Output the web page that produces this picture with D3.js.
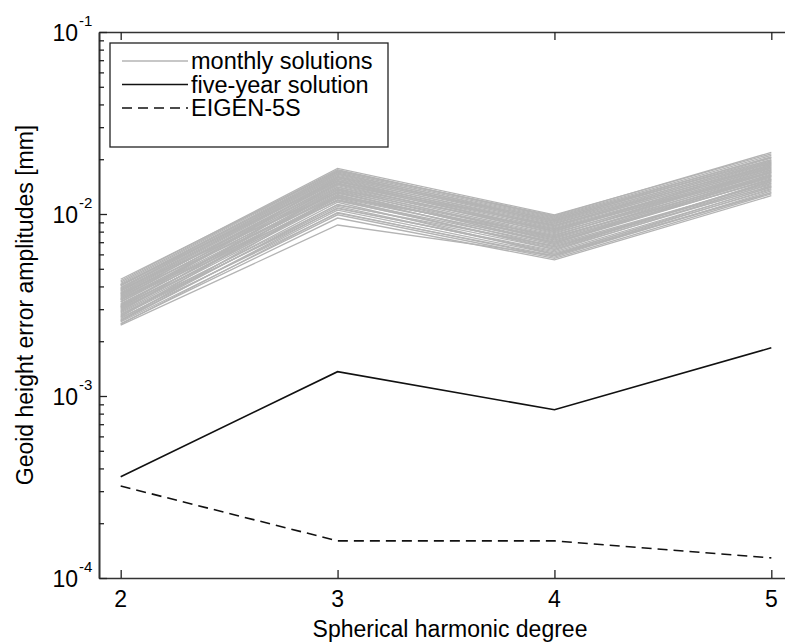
<!DOCTYPE html>
<html>
<head>
<meta charset="utf-8">
<script src="https://cdn.jsdelivr.net/npm/d3@7"></script>
<style>
  body { margin: 0; background: #fff; }
  text { font-family: "Liberation Sans", Arial, sans-serif; fill: #000; }
</style>
</head>
<body>
<svg id="chart" width="785" height="642"></svg>
<script>
// ─── DATA ─────────────────────────────────────────────────────────────────────
const degrees = [2, 3, 4, 5];
const xTicks = [2, 3, 4, 5];
const yMajor = [1e-4, 1e-3, 1e-2, 1e-1];
const yExp = [-4, -3, -2, -1];

// monthly solutions, geoid height error [mm] at degree 2,3,4,5
const monthly = [
  [0.00245, 0.0087, 0.0059, 0.0131],
  [0.00250, 0.0095, 0.0056, 0.0126],
  [0.00255, 0.0099, 0.0057, 0.0129],
  [0.00248, 0.0102, 0.0058, 0.0134],
  [0.00262, 0.0105, 0.0060, 0.0131],
  [0.00270, 0.0101, 0.0059, 0.0138],
  [0.00258, 0.0108, 0.0062, 0.0140],
  [0.00275, 0.0110, 0.0061, 0.0136],
  [0.00266, 0.0113, 0.0064, 0.0143],
  [0.00282, 0.0107, 0.0063, 0.0147],
  [0.00278, 0.0116, 0.0060, 0.0141],
  [0.00290, 0.0119, 0.0065, 0.0150],
  [0.00286, 0.0112, 0.0067, 0.0145],
  [0.00295, 0.0122, 0.0064, 0.0153],
  [0.00302, 0.0120, 0.0068, 0.0148],
  [0.00298, 0.0125, 0.0069, 0.0156],
  [0.00308, 0.0128, 0.0066, 0.0151],
  [0.00312, 0.0123, 0.0070, 0.0160],
  [0.00305, 0.0130, 0.0072, 0.0154],
  [0.00318, 0.0132, 0.0069, 0.0163],
  [0.00322, 0.0127, 0.0073, 0.0158],
  [0.00315, 0.0135, 0.0071, 0.0166],
  [0.00328, 0.0133, 0.0075, 0.0161],
  [0.00335, 0.0138, 0.0074, 0.0169],
  [0.00330, 0.0140, 0.0077, 0.0164],
  [0.00342, 0.0136, 0.0076, 0.0172],
  [0.00338, 0.0143, 0.0079, 0.0168],
  [0.00348, 0.0145, 0.0078, 0.0175],
  [0.00352, 0.0141, 0.0081, 0.0171],
  [0.00345, 0.0148, 0.0080, 0.0178],
  [0.00358, 0.0150, 0.0083, 0.0174],
  [0.00362, 0.0146, 0.0082, 0.0181],
  [0.00355, 0.0153, 0.0085, 0.0184],
  [0.00370, 0.0155, 0.0084, 0.0179],
  [0.00366, 0.0151, 0.0087, 0.0187],
  [0.00375, 0.0158, 0.0086, 0.0190],
  [0.00382, 0.0160, 0.0089, 0.0185],
  [0.00378, 0.0156, 0.0088, 0.0193],
  [0.00388, 0.0163, 0.0091, 0.0196],
  [0.00395, 0.0165, 0.0090, 0.0191],
  [0.00392, 0.0161, 0.0093, 0.0199],
  [0.00402, 0.0168, 0.0092, 0.0203],
  [0.00408, 0.0170, 0.0095, 0.0198],
  [0.00405, 0.0166, 0.0094, 0.0206],
  [0.00415, 0.0173, 0.0097, 0.0210],
  [0.00422, 0.0175, 0.0096, 0.0205],
  [0.00430, 0.0178, 0.0099, 0.0214],
  [0.00438, 0.0172, 0.0098, 0.0218],
  [0.00260, 0.0126, 0.0074, 0.0162],
  [0.00340, 0.0118, 0.0066, 0.0142],
  [0.00292, 0.0147, 0.0086, 0.0182],
  [0.00385, 0.0131, 0.0070, 0.0155],
  [0.00310, 0.0159, 0.0091, 0.0194],
  [0.00365, 0.0124, 0.0076, 0.0176],
  [0.00272, 0.0137, 0.0082, 0.0170],
  [0.00410, 0.0152, 0.0080, 0.0188],
];
const fiveYear = [0.00036, 0.00136, 0.00084, 0.00184];
const eigen5s  = [0.00032, 0.00016, 0.00016, 0.000129];

const legendItems = [
  { label: 'monthly solutions', color: '#b4b4b4', dash: null },
  { label: 'five-year solution', color: '#111', dash: null },
  { label: 'EIGEN-5S', color: '#111', dash: '10,6' },
];
// ──────────────────────────────────────────────────────────────────────────────

const box = { left: 99, right: 793, top: 32, bottom: 578 };

const svg = d3.select('#chart');
svg.append('rect').attr('width', 785).attr('height', 642).attr('fill', '#fff');

const x = d3.scaleLinear().domain([1.9, 5.1]).range([box.left, box.right]);
const y = d3.scaleLog().domain([1e-4, 1e-1]).range([box.bottom, box.top]);

const yMinor = [];
yMajor.slice(0, -1).forEach((m) => {
  for (let k = 2; k <= 9; k++) yMinor.push(m * k);
});

svg.append('defs').append('clipPath').attr('id', 'plot')
  .append('rect').attr('x', box.left).attr('y', box.top)
  .attr('width', box.right - box.left).attr('height', box.bottom - box.top);

const line = d3.line()
  .x((d, i) => x(degrees[i]))
  .y((d) => y(d));

const plot = svg.append('g').attr('clip-path', 'url(#plot)');

plot.selectAll('path.monthly')
  .data(monthly)
  .join('path')
  .attr('class', 'monthly')
  .attr('d', line)
  .attr('fill', 'none')
  .attr('stroke', '#b4b4b4')
  .attr('stroke-width', 1.3);

plot.append('path')
  .attr('d', line(fiveYear))
  .attr('fill', 'none')
  .attr('stroke', '#111')
  .attr('stroke-width', 1.6);

plot.append('path')
  .attr('d', line(eigen5s))
  .attr('fill', 'none')
  .attr('stroke', '#111')
  .attr('stroke-width', 1.6)
  .attr('stroke-dasharray', '10,6');

// ─── AXES (MATLAB style: inward ticks, box) ─────────────────────────────────
function styleAxis(g) {
  g.selectAll('path.domain').attr('stroke', '#333').attr('stroke-width', 1.6);
  g.selectAll('.tick line').attr('stroke', '#222').attr('stroke-width', 1.3);
  g.selectAll('.tick text').remove();
}

svg.append('g').attr('transform', `translate(0,${box.bottom})`)
  .call(d3.axisBottom(x).tickValues(xTicks).tickSize(-8).tickSizeOuter(0))
  .call(styleAxis);
svg.append('g').attr('transform', `translate(0,${box.top})`)
  .call(d3.axisTop(x).tickValues(xTicks).tickSize(-8).tickSizeOuter(0))
  .call(styleAxis);
svg.append('g').attr('transform', `translate(${box.left},0)`)
  .call(d3.axisLeft(y).tickValues(yMajor).tickSize(-8).tickSizeOuter(0))
  .call(styleAxis);
svg.append('g').attr('transform', `translate(${box.left},0)`)
  .call(d3.axisLeft(y).tickValues(yMinor).tickSize(-5).tickSizeOuter(0))
  .call(styleAxis);
svg.append('g').attr('transform', `translate(${box.right},0)`)
  .call(d3.axisRight(y).tickValues(yMajor).tickSize(-8).tickSizeOuter(0))
  .call(styleAxis);

// tick labels
svg.selectAll('text.xtick')
  .data(xTicks)
  .join('text')
  .attr('class', 'xtick')
  .attr('x', (d) => x(d))
  .attr('y', 607)
  .attr('text-anchor', 'middle')
  .attr('font-size', 23)
  .text((d) => d);

svg.selectAll('text.ytick')
  .data(yMajor)
  .join('text')
  .attr('class', 'ytick')
  .attr('x', 78)
  .attr('y', (d) => y(d) + 9)
  .attr('text-anchor', 'end')
  .attr('font-size', 23)
  .text('10');
svg.selectAll('text.yexp')
  .data(yMajor)
  .join('text')
  .attr('class', 'yexp')
  .attr('x', 79)
  .attr('y', (d) => y(d) - 6)
  .attr('font-size', 15)
  .text((d, i) => yExp[i]);

// axis titles
svg.append('text')
  .attr('x', 450)
  .attr('y', 637)
  .attr('text-anchor', 'middle')
  .attr('font-size', 23)
  .text('Spherical harmonic degree');

svg.append('text')
  .attr('transform', `translate(33,${(box.top + box.bottom) / 2}) rotate(-90)`)
  .attr('text-anchor', 'middle')
  .attr('font-size', 23)
  .text('Geoid height error amplitudes [mm]');

// ─── LEGEND ───────────────────────────────────────────────────────────────────
const legend = svg.append('g');
legend.append('rect')
  .attr('x', 110).attr('y', 43)
  .attr('width', 278).attr('height', 104)
  .attr('fill', '#fff')
  .attr('stroke', '#222')
  .attr('stroke-width', 1.3);

const rows = legend.selectAll('g.row')
  .data(legendItems)
  .join('g')
  .attr('class', 'row')
  .attr('transform', (d, i) => `translate(0,${61 + i * 23.5})`);

rows.append('line')
  .attr('x1', 122).attr('x2', 188)
  .attr('stroke', (d) => d.color)
  .attr('stroke-width', 1.6)
  .attr('stroke-dasharray', (d) => d.dash);

rows.append('text')
  .attr('x', 191)
  .attr('y', 8)
  .attr('font-size', 23.5)
  .text((d) => d.label);
</script>
</body>
</html>
